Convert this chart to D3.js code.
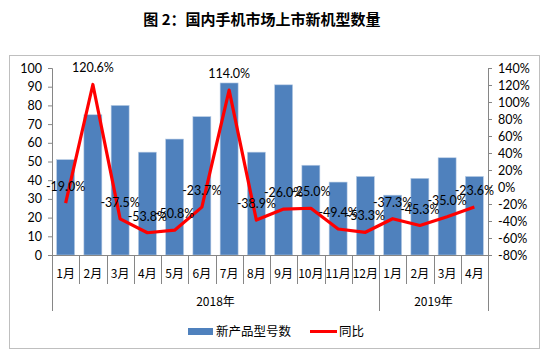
<!DOCTYPE html>
<html>
  <head>
    <meta charset="utf-8" />
    <title>国内手机市场上市新机型数量</title>
    <script src="https://d3js.org/d3.v7.min.js"></script>
    <style>
        body { margin:0; background:#fff; }
        text { font-family: Lato, "Noto Sans CJK SC", sans-serif; fill:#000; }
        .cjk { font-family: "Noto Sans CJK SC", sans-serif; }
    </style>
  </head>
  <body>
    <svg id="viz"></svg>
    <script>
    var months = ["1月","2月","3月","4月","5月","6月","7月","8月","9月","10月","11月","12月","1月","2月","3月","4月"];
    var years = [{name: "2018年", count: 12}, {name: "2019年", count: 4}];
    var newModels = [51, 75, 80, 55, 62, 74, 92, 55, 91, 48, 39, 42, 32, 41, 52, 42];
    var yoy = [-19.0, 120.6, -37.5, -53.8, -50.8, -23.7, 114.0, -38.9, -26.0, -25.0, -49.4, -53.3, -37.3, -45.3, -35.0, -23.6];
    var leftTicks = [0, 10, 20, 30, 40, 50, 60, 70, 80, 90, 100];
    var rightTicks = [-80, -60, -40, -20, 0, 20, 40, 60, 80, 100, 120, 140];

    var width = 548, height = 352;
    var svg = d3.select("#viz").attr("width", width).attr("height", height);

    // title
    svg.append("text").attr("class", "cjk")
      .attr("x", 262).attr("y", 25)
      .attr("text-anchor", "middle")
      .attr("font-size", "15px").attr("font-weight", "bold")
      .text("图 2：国内手机市场上市新机型数量");

    // frame
    svg.append("rect")
      .attr("x", 9.5).attr("y", 55.5).attr("width", 530).attr("height", 293)
      .attr("fill", "none").attr("stroke", "#bfbfbf");

    var plotL = 52, plotR = 488, plotT = 68, plotB = 255;

    var x = d3.scaleBand().domain(d3.range(months.length)).range([plotL, plotR]).paddingInner(0.34).paddingOuter(0.17);
    var band = d3.scaleBand().domain(d3.range(months.length)).range([plotL, plotR]);
    var y = d3.scaleLinear().domain([0, 100]).range([plotB, plotT]);
    var y2 = d3.scaleLinear().domain([-80, 140]).range([plotB, plotT]);

    // axes
    var yAxis = d3.axisLeft(y).tickValues(leftTicks).tickSize(4).tickPadding(6);
    var gy = svg.append("g").attr("transform", "translate(" + plotL + ",0)").call(yAxis);
    var y2Axis = d3.axisRight(y2).tickValues(rightTicks).tickSize(4).tickPadding(6).tickFormat(function(d){ return d + "%"; });
    var gy2 = svg.append("g").attr("transform", "translate(" + plotR + ",0)").call(y2Axis);
    [gy, gy2].forEach(function(g){
      g.selectAll("path, line").attr("stroke", "#868686");
      g.selectAll("text").attr("font-size", "12.5px").attr("font-family", "Lato, sans-serif");
    });

    // bars
    svg.append("g").selectAll("rect").data(newModels).enter().append("rect")
      .attr("x", function(d, i){ return x(i); })
      .attr("y", function(d){ return y(d); })
      .attr("width", x.bandwidth())
      .attr("height", function(d){ return y(0) - y(d); })
      .attr("fill", "#4f81bd")
      .attr("stroke", "#b9cde5").attr("stroke-width", 0.6);

    // x axis baseline and separators
    var xa = svg.append("g");
    xa.append("line").attr("x1", plotL).attr("x2", plotR).attr("y1", plotB + 0.5).attr("y2", plotB + 0.5).attr("stroke", "#868686");
    d3.range(months.length + 1).forEach(function(i){
      var xx = i < months.length ? band(i) : plotR;
      var isLong = (i === 0 || i === 12 || i === months.length);
      xa.append("line")
        .attr("x1", Math.round(xx) + 0.5).attr("x2", Math.round(xx) + 0.5)
        .attr("y1", plotB).attr("y2", isLong ? 311 : 284)
        .attr("stroke", "#868686");
    });
    xa.selectAll("text.m").data(months).enter().append("text")
      .attr("class", "cjk")
      .attr("x", function(d, i){ return band(i) + band.bandwidth() / 2; })
      .attr("y", 278)
      .attr("text-anchor", "middle").attr("font-size", "12px")
      .text(function(d){ return d; });
    var start = 0;
    years.forEach(function(yr){
      var x0 = band(start), x1 = band(start + yr.count - 1) + band.bandwidth();
      xa.append("text").attr("class", "cjk")
        .attr("x", (x0 + x1) / 2).attr("y", 306)
        .attr("text-anchor", "middle").attr("font-size", "12px")
        .text(yr.name);
      start += yr.count;
    });

    // line
    var line = d3.line()
      .x(function(d, i){ return band(i) + band.bandwidth() / 2; })
      .y(function(d){ return y2(d); });
    svg.append("path").datum(yoy)
      .attr("d", line).attr("fill", "none")
      .attr("stroke", "#ff0000").attr("stroke-width", 3.2).attr("stroke-linejoin", "round");

    svg.append("g").selectAll("text").data(yoy).enter().append("text")
      .attr("x", function(d, i){ return band(i) + band.bandwidth() / 2; })
      .attr("y", function(d){ return y2(d) - 12; })
      .attr("text-anchor", "middle").attr("font-size", "12.5px")
      .text(function(d){ return d.toFixed(1) + "%"; });

    // legend
    var lg = svg.append("g");
    lg.append("rect").attr("x", 188).attr("y", 328).attr("width", 25).attr("height", 7).attr("fill", "#4f81bd");
    lg.append("text").attr("class", "cjk").attr("x", 216).attr("y", 336).attr("font-size", "12.5px").text("新产品型号数");
    lg.append("line").attr("x1", 310).attr("x2", 337).attr("y1", 331.5).attr("y2", 331.5).attr("stroke", "#ff0000").attr("stroke-width", 3);
    lg.append("text").attr("class", "cjk").attr("x", 339).attr("y", 336).attr("font-size", "12.5px").text("同比");
    </script>
  </body>
</html>
